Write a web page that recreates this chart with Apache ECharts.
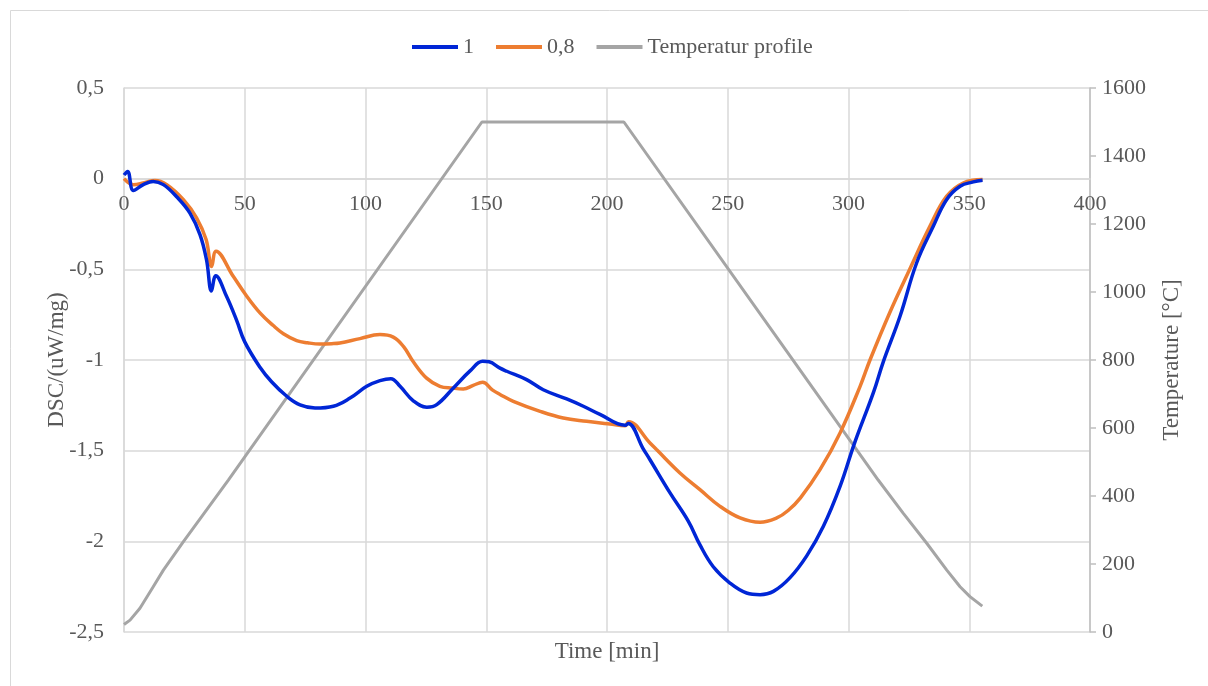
<!DOCTYPE html>
<html>
<head>
<meta charset="utf-8">
<script src="https://cdn.jsdelivr.net/npm/echarts@6/dist/echarts.min.js"></script>
<style>html,body{margin:0;padding:0;background:#fff;}#c{width:1208px;height:686px;}</style>
</head>
<body>
<div id="c"></div>
<script>
// Series "1"
var time1 = [0,1.5,3.9,8,12.1,16.3,21.8,27.3,31.5,34.2,36.2,38,42.5,46.6,50,56.3,61.1,67.4,72.9,79.1,86.7,93.6,100.5,106,110.5,114.3,119.8,125.4,129.5,136.4,143.3,148.5,151.2,155.7,158.5,166.7,173.6,183.3,190.2,197.1,207.5,208.8,215,217.8,226.1,233.7,238.5,244,250.9,257.8,263.4,268.9,275.8,282.7,289.6,296.5,302.5,310.3,314.4,321.3,328.2,335.1,340.6,346.2,351.7,355.5];
var dsc1 = [0.02,0.04,-0.065,-0.033,-0.015,-0.033,-0.10,-0.19,-0.31,-0.45,-0.62,-0.535,-0.65,-0.78,-0.90,-1.04,-1.12,-1.20,-1.248,-1.265,-1.255,-1.21,-1.145,-1.114,-1.103,-1.145,-1.225,-1.26,-1.246,-1.154,-1.06,-1.007,-1.01,-1.045,-1.062,-1.108,-1.164,-1.215,-1.255,-1.30,-1.36,-1.35,-1.49,-1.55,-1.733,-1.89,-2.02,-2.14,-2.23,-2.285,-2.294,-2.276,-2.20,-2.08,-1.917,-1.697,-1.458,-1.18,-1.01,-0.76,-0.465,-0.263,-0.116,-0.042,-0.018,-0.009];
// Series "0,8"
var time08 = [0,3.9,8,12.8,17.7,24.6,30.1,34,36.3,38.1,45.3,50.4,56.3,61.8,66,71.5,76,81.2,86,89.4,97.7,106,111.5,115.7,119.8,125.3,130.8,136,140.5,144.6,148.5,152.5,155.7,161.2,172.3,181.9,191.6,201.2,207.5,208.9,217.8,220.5,230.2,238.5,246.8,255.1,263.4,270.3,275,280.1,288.2,296.5,304.8,308.9,317.2,325.5,333.7,340.6,347.5,355.5];
var dsc08 = [0,-0.033,-0.024,-0.01,-0.033,-0.116,-0.217,-0.336,-0.484,-0.40,-0.54,-0.64,-0.74,-0.81,-0.855,-0.893,-0.905,-0.912,-0.91,-0.906,-0.882,-0.86,-0.874,-0.925,-1.01,-1.10,-1.145,-1.155,-1.16,-1.14,-1.123,-1.165,-1.19,-1.228,-1.283,-1.32,-1.338,-1.353,-1.362,-1.34,-1.458,-1.494,-1.623,-1.715,-1.807,-1.871,-1.895,-1.871,-1.83,-1.76,-1.605,-1.402,-1.145,-1.0,-0.735,-0.495,-0.263,-0.098,-0.024,-0.005];
// Temperatur profile
var timeT = [0,2.5,6.6,12.1,16.3,24.6,43.2,148.2,207,268.2,312.3,322.7,332.4,340.7,346.2,350.3,355.4];
var tempT = [22,35,70,133,182,266,447,1500,1500,888,447,349,261,182,133,104,76];

var leftTicks = [-2.5,-2,-1.5,-1,-0.5,0,0.5];
var rightTicks = [0,200,400,600,800,1000,1200,1400,1600];
var xTicks = [0,50,100,150,200,250,300,350,400];

function pairs(a,b){return a.map(function(t,i){return [t,b[i]];});}
var FONT = 'Liberation Serif';
var TXT = '#595959';
var GRID = '#d9d9d9';
var L = 124, R = 118, TOP = 88, BOT = 54;
var H = 686 - TOP - BOT;
// fraction of the plot height above the DSC zero line (from the axis range)
var zeroFrac = (leftTicks[leftTicks.length-1] - 0) / (leftTicks[leftTicks.length-1] - leftTicks[0]);

var chart = echarts.init(document.getElementById('c'));
chart.setOption({
  animation:false,
  backgroundColor:'#fff',
  textStyle:{fontFamily:FONT},
  graphic:[{type:'rect',shape:{x:10.5,y:10.5,width:1210,height:700},style:{fill:'none',stroke:'#d9d9d9',lineWidth:1},silent:true}],
  legend:{
    top:31,left:407,
    icon:'rect',itemWidth:46,itemHeight:4,itemGap:22,
    textStyle:{fontFamily:FONT,fontSize:22,color:TXT},
    data:['1','0,8','Temperatur profile']
  },
  grid:[
    {left:L,right:R,top:TOP,bottom:BOT,containLabel:false},
    {left:L,right:R,top:TOP,height:H*zeroFrac,containLabel:false}
  ],
  xAxis:[{
    gridIndex:0,type:'value',min:xTicks[0],max:xTicks[xTicks.length-1],interval:50,
    axisLine:{show:false,onZero:false},
    axisTick:{show:false},axisLabel:{show:false},
    splitLine:{show:true,lineStyle:{color:GRID,width:1.5}},
    name:'Time [min]',nameLocation:'middle',nameGap:8,nameMoveOverlap:false,
    nameTextStyle:{fontFamily:FONT,fontSize:23,color:TXT,verticalAlign:'top'}
  },{
    gridIndex:1,type:'value',position:'bottom',min:xTicks[0],max:xTicks[xTicks.length-1],interval:50,
    axisLine:{show:true,onZero:false,lineStyle:{color:GRID,width:1.5}},
    axisTick:{show:false},
    axisLabel:{fontFamily:FONT,fontSize:22,color:TXT,margin:15,showMinLabel:true,showMaxLabel:true},
    splitLine:{show:false}
  }],
  yAxis:[{
    gridIndex:0,type:'value',min:leftTicks[0],max:leftTicks[leftTicks.length-1],interval:0.5,
    axisLine:{show:true,onZero:false,lineStyle:{color:GRID,width:1.5}},
    axisTick:{show:false},
    axisLabel:{fontFamily:FONT,fontSize:22,color:TXT,margin:20,
      formatter:function(v){return String(Math.round(v*10)/10).replace('.',',');}},
    splitLine:{show:true,lineStyle:{color:GRID,width:1.5}},
    name:'DSC/(uW/mg)',nameLocation:'middle',nameGap:56,nameRotate:90,nameMoveOverlap:false,
    nameTextStyle:{fontFamily:FONT,fontSize:23,color:TXT}
  },{
    gridIndex:0,type:'value',position:'right',min:rightTicks[0],max:rightTicks[rightTicks.length-1],interval:200,
    axisLine:{show:true,onZero:false,lineStyle:{color:'#bfbfbf',width:1.5}},
    axisTick:{show:true,inside:false,length:6,lineStyle:{color:'#bfbfbf',width:1.5}},
    axisLabel:{fontFamily:FONT,fontSize:22,color:TXT,margin:12,formatter:function(v){return String(v);}},
    splitLine:{show:false},
    name:'Temperature [°C]',nameLocation:'middle',nameGap:70,nameRotate:90,nameMoveOverlap:false,
    nameTextStyle:{fontFamily:FONT,fontSize:23,color:TXT}
  },{
    gridIndex:1,type:'value',min:0,max:1,show:false
  }],
  series:[{
    name:'1',type:'line',xAxisIndex:0,yAxisIndex:0,data:pairs(time1,dsc1),
    showSymbol:false,symbol:'none',smooth:0.4,
    lineStyle:{color:'#0026d6',width:3.5},itemStyle:{color:'#0026d6'},z:4
  },{
    name:'0,8',type:'line',xAxisIndex:0,yAxisIndex:0,data:pairs(time08,dsc08),
    showSymbol:false,symbol:'none',smooth:0.4,
    lineStyle:{color:'#ed7d31',width:3.5},itemStyle:{color:'#ed7d31'},z:3
  },{
    name:'Temperatur profile',type:'line',xAxisIndex:0,yAxisIndex:1,data:pairs(timeT,tempT),
    showSymbol:false,symbol:'none',smooth:false,
    lineStyle:{color:'#a5a5a5',width:3},itemStyle:{color:'#a5a5a5'},z:2
  }]
});
</script>
</body>
</html>
